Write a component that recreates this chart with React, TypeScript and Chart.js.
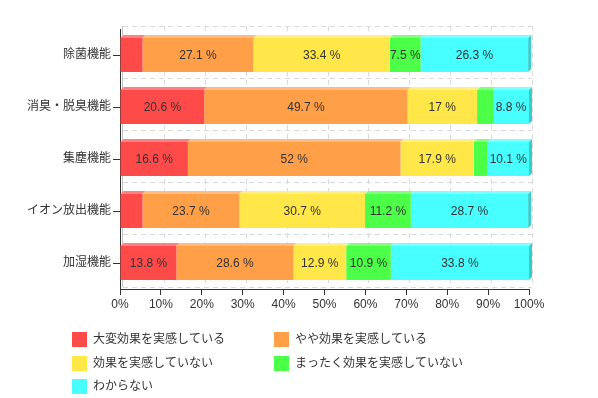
import React, { useEffect, useRef } from 'react';
import { Chart, registerables } from 'chart.js';

Chart.register(...registerables);

const FONT = '"Liberation Sans", "Noto Sans CJK JP", sans-serif';

const categories = ['除菌機能', '消臭・脱臭機能', '集塵機能', 'イオン放出機能', '加湿機能'];
const seriesNames = [
  '大変効果を実感している',
  'やや効果を実感している',
  '効果を実感していない',
  'まったく効果を実感していない',
  'わからない',
];
const veryEffective = [5.5, 20.6, 16.6, 5.5, 13.8];
const somewhatEffective = [27.1, 49.7, 52, 23.7, 28.6];
const notEffective = [33.4, 17, 17.9, 30.7, 12.9];
const notAtAll = [7.5, 3.9, 3.4, 11.2, 10.9];
const unknown = [26.3, 8.8, 10.1, 28.7, 33.8];
const seriesValues = [veryEffective, somewhatEffective, notEffective, notAtAll, unknown];

const frontColors = ['#FF4A4A', '#FF9F47', '#FFE74A', '#4CFF47', '#47FFFF'];
const topColors = ['#FF8080', '#FFBC7E', '#FFEF80', '#82FF7E', '#7EFFFF'];
const sideColors = ['#CC3B3B', '#CC7F39', '#CCB93B', '#3DCC39', '#38CCCC'];

const DEPTH = 3;
const GRID_DY = 2;

const bar3dPlugin = {
  id: 'bar3d',
  beforeDatasetsDraw(chart: any) {
    const { ctx, chartArea, scales } = chart;
    const { left, right, top, bottom } = chartArea;
    const x = scales.x;
    const y = scales.y;
    ctx.save();
    ctx.lineWidth = 1;
    ctx.strokeStyle = '#d9d9d9';
    ctx.setLineDash([5, 4]);
    x.ticks.forEach((t: any) => {
      const px = Math.round(x.getPixelForValue(t.value)) + 0.5 + DEPTH;
      if (px <= left + DEPTH + 1) return;
      ctx.beginPath();
      ctx.moveTo(px, top - DEPTH);
      ctx.lineTo(px, bottom - GRID_DY);
      ctx.stroke();
    });
    for (let i = 0; i <= categories.length; i++) {
      const py = Math.round(y.getPixelForValue(i - 0.5)) + 0.5 - (i === categories.length ? GRID_DY : DEPTH);
      ctx.beginPath();
      ctx.moveTo(left + DEPTH, py);
      ctx.lineTo(right + DEPTH, py);
      ctx.stroke();
    }
    ctx.setLineDash([]);
    ctx.strokeStyle = '#c4c4c4';
    ctx.beginPath();
    ctx.moveTo(Math.round(left) + 0.5 + 2, top - DEPTH);
    ctx.lineTo(Math.round(left) + 0.5 + 2, bottom - GRID_DY);
    ctx.stroke();
    ctx.restore();
  },
  afterDatasetsDraw(chart: any) {
    const { ctx } = chart;
    ctx.save();
    const n = chart.data.datasets.length;
    chart.data.datasets.forEach((ds: any, di: number) => {
      const meta = chart.getDatasetMeta(di);
      meta.data.forEach((el: any) => {
        const p = el.getProps(['x', 'y', 'base', 'height'], true);
        const l = Math.min(p.base, p.x);
        const r = Math.max(p.base, p.x);
        const t = p.y - p.height / 2;
        const b = p.y + p.height / 2;
        ctx.fillStyle = topColors[di];
        ctx.beginPath();
        ctx.moveTo(l, t);
        ctx.lineTo(l + DEPTH, t - DEPTH);
        ctx.lineTo(r + DEPTH, t - DEPTH);
        ctx.lineTo(r, t);
        ctx.closePath();
        ctx.fill();
        if (di === n - 1) {
          ctx.fillStyle = sideColors[di];
          ctx.beginPath();
          ctx.moveTo(r, t);
          ctx.lineTo(r + DEPTH, t - DEPTH);
          ctx.lineTo(r + DEPTH, b - DEPTH);
          ctx.lineTo(r, b);
          ctx.closePath();
          ctx.fill();
        }
      });
    });
    ctx.font = '12px ' + FONT;
    ctx.fillStyle = '#333333';
    ctx.textAlign = 'center';
    ctx.textBaseline = 'middle';
    chart.data.datasets.forEach((ds: any, di: number) => {
      const meta = chart.getDatasetMeta(di);
      meta.data.forEach((el: any, i: number) => {
        const v = ds.data[i];
        if (v < 7) return;
        const p = el.getProps(['x', 'y', 'base'], true);
        ctx.fillText(`${v} %`, (p.base + p.x) / 2, p.y + 1);
      });
    });
    ctx.restore();
  },
  afterDraw(chart: any) {
    const { ctx } = chart;
    ctx.save();
    ctx.font = '12px ' + FONT;
    ctx.textAlign = 'left';
    ctx.textBaseline = 'middle';
    const cols = [72, 274];
    const rows = [332, 356, 379];
    chart.data.datasets.forEach((ds: any, i: number) => {
      const cx = cols[i % 2];
      const cy = rows[Math.floor(i / 2)];
      ctx.fillStyle = frontColors[i];
      ctx.fillRect(cx, cy, 15, 15);
      ctx.fillStyle = '#333333';
      ctx.fillText(ds.label, cx + 21, cy + 8);
    });
    ctx.restore();
  },
};

export default function App() {
  const ref = useRef<HTMLCanvasElement | null>(null);
  useEffect(() => {
    document.body.style.margin = '0';
    if (!ref.current) return;
    Chart.defaults.font.family = FONT;
    Chart.defaults.font.size = 12;
    Chart.defaults.color = '#333333';
    const chart = new Chart(ref.current, {
      type: 'bar',
      data: {
        labels: categories,
        datasets: seriesValues.map((vals, i) => ({
          label: seriesNames[i],
          data: vals,
          backgroundColor: frontColors[i],
          borderWidth: 0,
          barPercentage: 0.655,
          categoryPercentage: 1,
        })),
      },
      options: {
        indexAxis: 'y',
        responsive: false,
        animation: false,
        layout: { padding: { left: 0, right: 69, top: 29, bottom: 0 } },
        plugins: {
          legend: { display: false },
          tooltip: { enabled: false },
        },
        scales: {
          x: {
            stacked: true,
            min: 0,
            max: 100,
            ticks: {
              stepSize: 10,
              padding: 2,
              callback: (v: any) => `${v}%`,
              color: '#333333',
              font: { size: 12 },
            },
            grid: {
              drawOnChartArea: false,
              drawTicks: true,
              tickLength: 6,
              tickColor: '#333333',
            },
            border: { display: true, color: '#333333', width: 1 },
            afterFit: (s: any) => {
              s.height = 109;
            },
          },
          y: {
            stacked: true,
            ticks: { padding: 2, color: '#333333', font: { size: 12 } },
            grid: {
              offset: false,
              drawOnChartArea: false,
              drawTicks: true,
              tickLength: 7,
              tickColor: '#333333',
            },
            border: { display: true, color: '#333333', width: 1 },
            afterFit: (s: any) => {
              s.width = 120;
            },
          },
        },
      },
      plugins: [bar3dPlugin],
    });
    return () => chart.destroy();
  }, []);
  return (
    <div style={{ width: 598, height: 398, position: 'relative' }}>
      <canvas ref={ref} width={598} height={398} />
    </div>
  );
}
